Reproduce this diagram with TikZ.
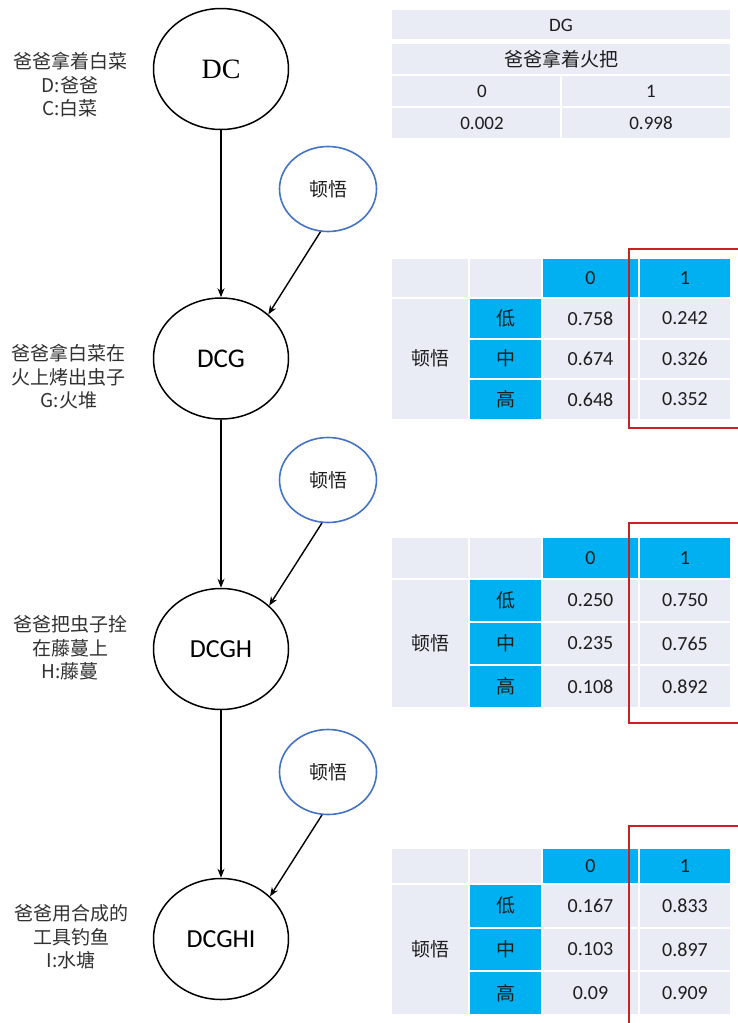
\documentclass[tikz,border=0pt]{standalone}
\usepackage{fontspec}
\setmainfont{Carlito}
\newfontfamily\cjk{Noto Sans CJK SC}
\newfontfamily\serifdc{Liberation Serif}
\usetikzlibrary{arrows.meta,shapes.geometric}

\definecolor{lav}{RGB}{233,235,245}
\definecolor{hdr}{RGB}{0,176,240}
\definecolor{txt}{RGB}{30,30,30}
\definecolor{lbl}{RGB}{50,50,50}
\definecolor{ring}{RGB}{68,114,196}
\definecolor{mark}{RGB}{204,32,39}

\tikzset{
  bignode/.style={ellipse,draw=black,line width=1.5pt,minimum width=135pt,minimum height=121pt,inner sep=0pt,text=black},
  insight/.style={ellipse,draw=ring,line width=1.6pt,minimum width=97pt,minimum height=85pt,inner sep=0pt,text=txt,font=\cjk\fontsize{19}{19}\selectfont},
  story/.style={align=center,text=lbl,inner sep=0pt,font=\cjk\fontsize{19}{23.5}\selectfont},
  link/.style={line width=1.4pt,-{Stealth[length=9pt,width=7pt]}},
  celltxt/.style={inner sep=0pt,text=txt,font=\fontsize{20}{20}\selectfont},
  cjktxt/.style={inner sep=0pt,text=txt,font=\cjk\fontsize{19}{19}\selectfont},
  redbox/.style={draw=mark,line width=1.6pt}
}

% conditional probability table: #1 name, #2 top, #3 header height, #4 row height, #5 rows
\newcommand\probtable[5]{%
  \begin{scope}[shift={(0,#2)}]
    \fill[lav] (392,0) rectangle (468,#3);
    \fill[lav] (470,0) rectangle (541,#3);
    \fill[hdr] (543,0) rectangle (638,#3);
    \fill[hdr] (640,0) rectangle (730,#3);
    \node[celltxt] (#1-h0) at (590.5,#3/2) {0};
    \node[celltxt] (#1-h1) at (685,#3/2) {1};
    \fill[lav] (392,#3+2) rectangle (468,#3+6+3*#4);
    \node[cjktxt] (#1-w) at (430,#3+4+1.5*#4) {顿悟};
    \foreach \lab/\pa/\pb [count=\i from 0] in {#5} {
      \pgfmathsetmacro\yt{#3+2+\i*(#4+2)}
      \pgfmathsetmacro\yb{\yt+#4}
      \pgfmathsetmacro\ym{\yt+#4/2}
      \fill[hdr] (470,\yt) rectangle (541,\yb);
      \fill[lav] (543,\yt) rectangle (638,\yb);
      \fill[lav] (640,\yt) rectangle (730,\yb);
      \node[cjktxt] (#1-l\i) at (506,\ym) {\lab};
      \node[celltxt] (#1-a\i) at (590.5,\ym) {\pa};
      \node[celltxt] (#1-b\i) at (685,\ym) {\pb};
    }
  \end{scope}
}

\begin{document}
\begin{tikzpicture}[x=1pt,y=-1pt]
\useasboundingbox[fill=white] (0,0) rectangle (738,1023);

% chain of states
\node[bignode,font=\serifdc\fontsize{28}{28}\selectfont] (dc) at (221,69) {DC};
\node[bignode,font=\fontsize{27}{27}\selectfont] (dcg) at (221,358.5) {DCG};
\node[bignode,font=\fontsize{26}{26}\selectfont] (dcgh) at (221,649) {DCGH};
\node[bignode,font=\fontsize{26}{26}\selectfont] (dcghi) at (221,939) {DCGHI};

% insight nodes
\node[insight] (w1) at (328,189) {顿悟};
\node[insight] (w2) at (328,480) {顿悟};
\node[insight] (w3) at (328,772) {顿悟};

\draw[link] (dc) -- (dcg);
\draw[link] (dcg) -- (dcgh);
\draw[link] (dcgh) -- (dcghi);
\draw[link] (w1.-100) -- (dcg.43);
\draw[link] (w2.-98) -- (dcgh.42);
\draw[link] (w3.-98) -- (dcghi.41);

% captions
\node[story] (s1) at (70,85) {爸爸拿着白菜\\D:爸爸\\C:白菜};
\node[story] (s2) at (69,377) {爸爸拿白菜在\\火上烤出虫子\\G:火堆};
\node[story] (s3) at (70,648) {爸爸把虫子拴\\在藤蔓上\\H:藤蔓};
\node[story] (s4) at (71,937) {爸爸用合成的\\工具钓鱼\\I:水塘};

% prior table
\fill[lav] (392,10) rectangle (730,39);
\fill[lav] (392,44) rectangle (730,74);
\fill[lav] (392,76) rectangle (560,106);
\fill[lav] (562,76) rectangle (730,106);
\fill[lav] (392,108) rectangle (560,138);
\fill[lav] (562,108) rectangle (730,138);
\node[celltxt,font=\fontsize{19}{19}\selectfont] (t1-name) at (561,25) {DG};
\node[cjktxt] (t1-desc) at (561,59) {爸爸拿着火把};
\node[celltxt,font=\fontsize{19}{19}\selectfont] (t1-h0) at (482,91) {0};
\node[celltxt,font=\fontsize{19}{19}\selectfont] (t1-h1) at (651,91) {1};
\node[celltxt,font=\fontsize{19}{19}\selectfont] (t1-a) at (482,123) {0.002};
\node[celltxt,font=\fontsize{19}{19}\selectfont] (t1-b) at (651,123) {0.998};

% conditional tables
\probtable{t2}{259}{38}{38.5}{低/0.758/0.242, 中/0.674/0.326, 高/0.648/0.352}
\probtable{t3}{538}{40}{41}{低/0.250/0.750, 中/0.235/0.765, 高/0.108/0.892}
\probtable{t4}{849}{34}{41.5}{低/0.167/0.833, 中/0.103/0.897, 高/0.09/0.909}

% highlighted columns
\draw[redbox] (629,249) rectangle (750,428);
\draw[redbox] (629,523) rectangle (750,723);
\draw[redbox] (629,826) rectangle (750,1040);
\end{tikzpicture}
\end{document}
